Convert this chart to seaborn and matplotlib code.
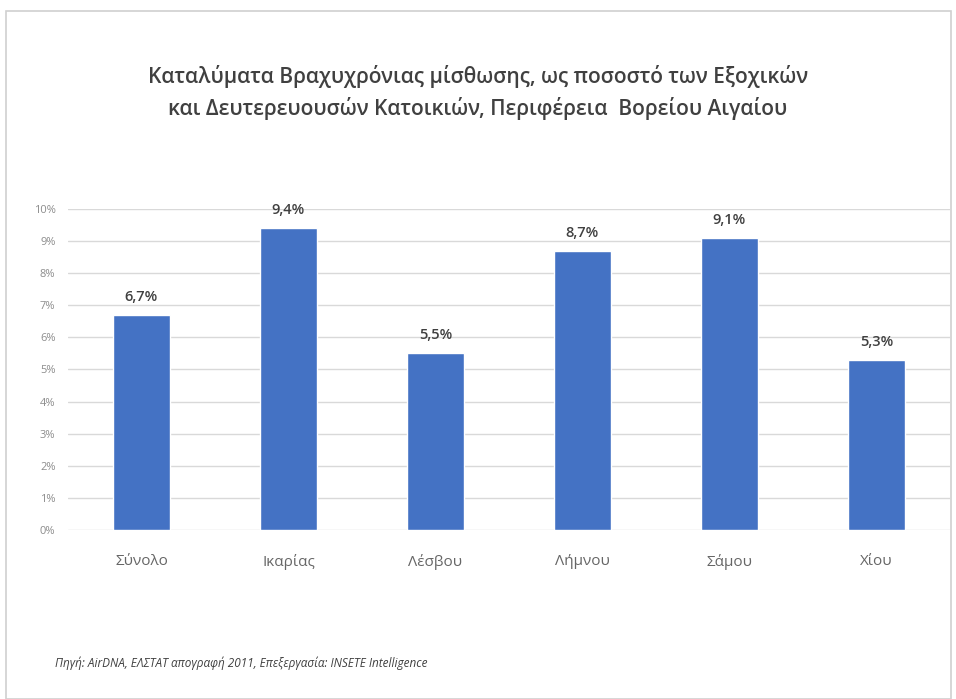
import numpy as np
import pandas as pd
import matplotlib
matplotlib.use("Agg")
import matplotlib.pyplot as plt
import seaborn as sns
from matplotlib.patches import Rectangle

# data
regions = ["Σύνολο", "Ικαρίας", "Λέσβου", "Λήμνου", "Σάμου", "Χίου"]
shares = [6.7, 9.4, 5.5, 8.7, 9.1, 5.3]
labels = ["6,7%", "9,4%", "5,5%", "8,7%", "9,1%", "5,3%"]
yticks = [0, 1, 2, 3, 4, 5, 6, 7, 8, 9, 10]

title = ("Καταλύματα Βραχυχρόνιας μίσθωσης, ως ποσοστό των Εξοχικών\n"
         "και Δευτερευουσών Κατοικιών, Περιφέρεια  Βορείου Αιγαίου")
source = "Πηγή: AirDNA, ΕΛΣΤΑΤ απογραφή 2011, Επεξεργασία: INSETE Intelligence"

sns.set_style("white")
plt.rcParams["font.family"] = ["Open Sans", "DejaVu Sans"]

df = pd.DataFrame({"region": regions, "share": shares})

fig = plt.figure(figsize=(9.56, 6.99), dpi=100)
ax = fig.add_axes([0.0711, 0.2418, 0.9226, 0.4592])

sns.barplot(data=df, x="region", y="share", color="#4472C4", saturation=1,
            width=0.39, ax=ax, zorder=3)

ax.set_ylim(0, 10)
ax.set_yticks(yticks)
ax.set_yticklabels([f"{t}%" for t in yticks], fontsize=8, color="#8c8c8c")
ax.tick_params(axis="y", length=0, pad=9)
ax.tick_params(axis="x", length=0, pad=17, labelsize=11, labelcolor="#666666")
ax.grid(axis="y", color="#d9d9d9", linewidth=1, zorder=0)
for s in ax.spines.values():
    s.set_visible(False)
ax.set_xlabel("")
ax.set_ylabel("")

for i, (v, lab) in enumerate(zip(shares, labels)):
    ax.annotate(lab, (i, v), xytext=(0, 8), textcoords="offset points",
                ha="center", va="bottom", fontsize=10.5, color="#404040",
                fontweight="semibold")

fig.text(0.5, 0.868, title, ha="center", va="center", fontsize=15,
         color="#404040", linespacing=1.5, fontweight="semibold")
fig.text(0.058, 0.051, source, ha="left", va="center", fontsize=8.5,
         color="#404040", style="italic")

# outer frame of the chart area
fig.patches.append(Rectangle((6 / 956, 0.0), 945 / 956, 1 - 11 / 699,
                             transform=fig.transFigure, fill=False,
                             edgecolor="#d0d0d0", linewidth=1.2))

fig.savefig("out.png", dpi=100)
